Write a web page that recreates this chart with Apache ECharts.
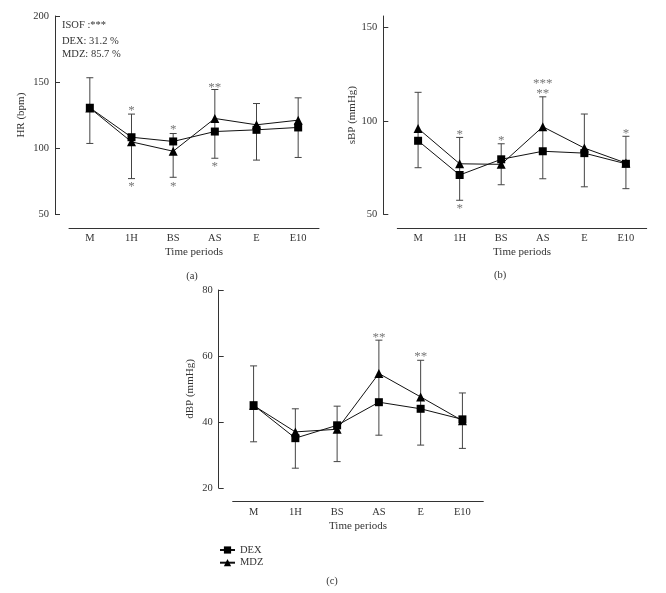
<!DOCTYPE html>
<html><head><meta charset="utf-8">
<script src="https://cdn.jsdelivr.net/npm/echarts@6/dist/echarts.min.js"></script>
<style>html,body{margin:0;padding:0;background:#fff}#c{width:666px;height:593px}</style>
</head><body><div id="c"></div>
<script>
const categories = ['M','1H','BS','AS','E','E10'];

// Panel (a) HR (bpm)
const hrDEX = [130.6, 108.3, 105.1, 112.6, 113.9, 115.7];
const hrMDZ = [130.4, 104.8, 97.7, 122.5, 117.7, 121.2];
const hrErrLow  = [103.6, 77, 78, 92.4, 91, 93];
const hrErrHigh = [153.3, 125.8, 111.1, 144.4, 133.8, 138.1];
const hrStarCat = [1, 1, 2, 2, 3, 3];
const hrStarVal = [130.5, 73.5, 116.1, 73.5, 148, 88.4];
const hrStarTxt = ['*', '*', '*', '*', '**', '*'];

// Panel (b) sBP (mmHg)
const sbpDEX = [89.3, 71, 79.4, 83.7, 82.7, 77];
const sbpMDZ = [95.9, 77, 76.7, 96.8, 85.4, 77.4];
const sbpErrLow  = [74.9, 57.5, 65.8, 69, 64.7, 63.7];
const sbpErrHigh = [115.2, 91.1, 87.7, 112.8, 103.6, 91.7];
const sbpStarCat = [1, 1, 2, 3, 3, 5];
const sbpStarVal = [94.1, 54.8, 91.1, 121.4, 116.4, 95];
const sbpStarTxt = ['*', '*', '*', '***', '**', '*'];

// Panel (c) dBP (mmHg)
const dbpDEX = [45.1, 35.1, 39, 46, 44, 40.8];
const dbpMDZ = [45, 37, 37.8, 54.7, 47.6, 40.4];
const dbpErrLow  = [34, 26, 28, 36, 33, 32];
const dbpErrHigh = [57, 44, 44.8, 64.8, 58.7, 48.8];
const dbpStarCat = [3, 4];
const dbpStarVal = [66.4, 60.6];
const dbpStarTxt = ['**', '**'];

const yTicksA = [50, 200, 50];   // min, max, interval
const yTicksB = [50, 156, 50];
const yTicksC = [20, 80, 20];

const FONT = '"Liberation Serif", "DejaVu Serif", serif';
const AX = '#333';
const TXT = '#333';

function xAxisFor(gi) {
  return {
    type: 'category', gridIndex: gi, data: categories, boundaryGap: true, offset: 13.5,
    name: 'Time periods', nameLocation: 'middle', nameGap: 19,
    nameTextStyle: {fontFamily: FONT, fontSize: 11, color: TXT},
    axisLine: {lineStyle: {color: AX, width: 1}},
    axisTick: {inside: true, length: 6, alignWithLabel: true, lineStyle: {color: AX}},
    axisLabel: {fontFamily: FONT, fontSize: 10.5, color: TXT, margin: 5},
    splitLine: {show: false}
  };
}
function yAxisFor(gi, t, name, gap) {
  return {
    type: 'value', gridIndex: gi, min: t[0], max: t[1], interval: t[2], offset: 14,
    name: name, nameLocation: 'middle', nameGap: gap, nameRotate: 90,
    nameTextStyle: {fontFamily: FONT, fontSize: 11, color: TXT},
    axisLine: {show: true, lineStyle: {color: AX, width: 1}},
    axisTick: {show: true, inside: true, length: 5, lineStyle: {color: AX}},
    axisLabel: {fontFamily: FONT, fontSize: 10.5, color: TXT, margin: 6, showMaxLabel: t[1] % t[2] === 0},
    splitLine: {show: false}
  };
}
function errSeries(gi, low, high) {
  return {
    type: 'custom', xAxisIndex: gi, yAxisIndex: gi, z: 1, silent: true,
    data: low.map((l, i) => [i, l, high[i]]),
    encode: {x: 0, y: [1, 2]},
    renderItem: function (params, api) {
      const a = api.coord([api.value(0), api.value(1)]);
      const b = api.coord([api.value(0), api.value(2)]);
      const w = 3.5;
      const st = {stroke: '#444', lineWidth: 1};
      return {type: 'group', children: [
        {type: 'line', shape: {x1: a[0], y1: a[1], x2: b[0], y2: b[1]}, style: st},
        {type: 'line', shape: {x1: a[0] - w, y1: a[1], x2: a[0] + w, y2: a[1]}, style: st},
        {type: 'line', shape: {x1: b[0] - w, y1: b[1], x2: b[0] + w, y2: b[1]}, style: st}
      ]};
    }
  };
}
function starSeries(gi, cats, vals, txts) {
  return {
    type: 'custom', xAxisIndex: gi, yAxisIndex: gi, z: 3, silent: true,
    data: cats.map((c, i) => [c, vals[i]]),
    encode: {x: 0, y: 1},
    renderItem: function (params, api) {
      const p = api.coord([api.value(0), api.value(1)]);
      return {type: 'text', x: p[0], y: p[1] + 3, style: {
        text: txts[params.dataIndex], fill: '#777', font: '13px ' + FONT,
        align: 'center', verticalAlign: 'middle'}};
    }
  };
}
function lineSeries(gi, name, data) {
  const isDex = name === 'DEX';
  return {
    type: 'line', name: name, xAxisIndex: gi, yAxisIndex: gi, data: data, z: 2,
    symbol: isDex ? 'rect' : 'triangle', symbolSize: isDex ? 8 : 9,
    itemStyle: {color: '#000'}, lineStyle: {color: '#111', width: 1}, showSymbol: true
  };
}

const chart = echarts.init(document.getElementById('c'), null, {renderer: 'canvas'});
chart.setOption({
  animation: false,
  backgroundColor: '#fff',
  grid: [
    {left: 69, top: 16, width: 250, height: 198.3},
    {left: 397.3, top: 16, width: 249.4, height: 198.3},
    {left: 232.7, top: 290, width: 250.6, height: 198}
  ],
  xAxis: [xAxisFor(0), xAxisFor(1), xAxisFor(2)],
  yAxis: [
    yAxisFor(0, yTicksA, 'HR (bpm)', 28),
    yAxisFor(1, yTicksB, 'sBP (mmHg)', 24),
    yAxisFor(2, yTicksC, 'dBP (mmHg)', 23)
  ],
  legend: {
    data: ['DEX', 'MDZ'], orient: 'vertical', left: 219, top: 544.5, padding: 0,
    itemWidth: 15, itemHeight: 9, itemGap: 1.7,
    textStyle: {fontFamily: FONT, fontSize: 10.5, color: TXT}
  },
  graphic: [
    {type: 'text', left: 62, top: 20, style: {text: 'ISOF :***', font: '10.5px ' + FONT, fill: TXT}},
    {type: 'text', left: 62, top: 36, style: {text: 'DEX: 31.2 %', font: '10.5px ' + FONT, fill: TXT}},
    {type: 'text', left: 62, top: 48.5, style: {text: 'MDZ: 85.7 %', font: '10.5px ' + FONT, fill: TXT}},
    {type: 'text', x: 192, y: 276, style: {text: '(a)', font: '10.5px ' + FONT, fill: TXT, align: 'center', verticalAlign: 'middle'}},
    {type: 'text', x: 500, y: 275, style: {text: '(b)', font: '10.5px ' + FONT, fill: TXT, align: 'center', verticalAlign: 'middle'}},
    {type: 'text', x: 332, y: 581, style: {text: '(c)', font: '10.5px ' + FONT, fill: TXT, align: 'center', verticalAlign: 'middle'}}
  ],
  series: [
    errSeries(0, hrErrLow, hrErrHigh),
    lineSeries(0, 'DEX', hrDEX), lineSeries(0, 'MDZ', hrMDZ),
    starSeries(0, hrStarCat, hrStarVal, hrStarTxt),
    errSeries(1, sbpErrLow, sbpErrHigh),
    lineSeries(1, 'DEX', sbpDEX), lineSeries(1, 'MDZ', sbpMDZ),
    starSeries(1, sbpStarCat, sbpStarVal, sbpStarTxt),
    errSeries(2, dbpErrLow, dbpErrHigh),
    lineSeries(2, 'DEX', dbpDEX), lineSeries(2, 'MDZ', dbpMDZ),
    starSeries(2, dbpStarCat, dbpStarVal, dbpStarTxt)
  ]
});
</script></body></html>
